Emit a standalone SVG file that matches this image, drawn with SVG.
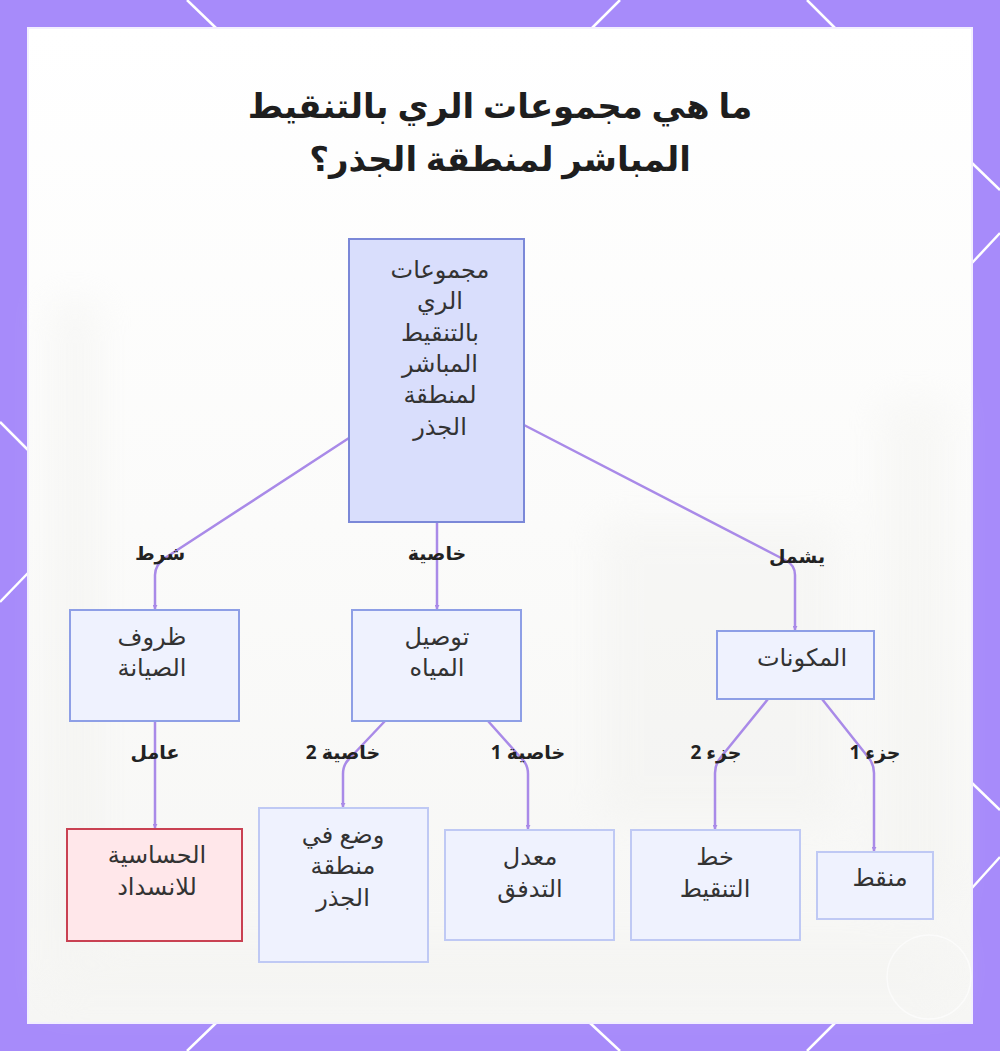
<svg xmlns="http://www.w3.org/2000/svg" width="1000" height="1051" viewBox="0 0 1000 1051">
<defs>
<style>
.frame-line{stroke:#ffffff;stroke-width:2.5;fill:none}
.node rect{stroke-width:2}
.n-main rect{fill:#d9defc;stroke:#7b88d8}
.n-mid rect{fill:#eff2fe;stroke:#8e9fe6}
.n-low rect{fill:#eff2fe;stroke:#bfc9f4}
.n-red rect{fill:#ffe7ea;stroke:#c94152}
.node text{font-family:"Noto Sans","DejaVu Sans",sans-serif;font-size:24px;fill:#333333;text-anchor:middle}
.edge{fill:none;stroke:#a98ae8;stroke-width:2.5}
.elabel{font-family:"Noto Sans","DejaVu Sans",sans-serif;font-size:19px;font-weight:bold;fill:#222222;text-anchor:middle}
.title{font-family:"Noto Sans","DejaVu Sans",sans-serif;font-size:34px;font-weight:bold;fill:#1e1e1e;text-anchor:middle}
</style>
<marker id="arrow" viewBox="0 0 6 6" refX="5" refY="3" markerWidth="5" markerHeight="5" orient="auto" markerUnits="userSpaceOnUse">
<path d="M0,0 L6,3 L0,6 z" fill="#a98ae8"/>
</marker>
<filter id="blur" x="-50%" y="-50%" width="200%" height="200%">
<feGaussianBlur stdDeviation="18"/>
</filter>
<linearGradient id="panelg" x1="0" y1="0" x2="0" y2="1">
<stop offset="0" stop-color="#ffffff"/>
<stop offset="0.5" stop-color="#fbfbfa"/>
<stop offset="1" stop-color="#f6f6f4"/>
</linearGradient>
</defs>

<!-- frame -->
<rect x="0" y="0" width="1000" height="1051" fill="#a78bfa"/>
<g id="frame-lines">
<line class="frame-line" x1="187" y1="0" x2="216" y2="28"/>
<line class="frame-line" x1="620" y1="0" x2="592" y2="28"/>
<line class="frame-line" x1="807" y1="0" x2="835" y2="28"/>
<line class="frame-line" x1="0" y1="422" x2="28" y2="450"/>
<line class="frame-line" x1="28" y1="573" x2="0" y2="602"/>
<line class="frame-line" x1="972" y1="163" x2="1000" y2="190"/>
<line class="frame-line" x1="972" y1="263" x2="1000" y2="233"/>
<line class="frame-line" x1="972" y1="783" x2="1000" y2="810"/>
<line class="frame-line" x1="972" y1="888" x2="1000" y2="857"/>
<line class="frame-line" x1="216" y1="1023" x2="187" y2="1051"/>
<line class="frame-line" x1="590" y1="1023" x2="620" y2="1051"/>
<line class="frame-line" x1="835" y1="1023" x2="807" y2="1051"/>
</g>

<!-- panel -->
<rect x="28" y="28" width="944" height="995" fill="url(#panelg)" stroke="#f3efff" stroke-width="2"/>
<g filter="url(#blur)" opacity="0.35">
<rect x="50" y="300" width="50" height="700" fill="#eeeeea"/>
<rect x="600" y="520" width="240" height="300" fill="#efefec"/>
<rect x="880" y="400" width="70" height="500" fill="#f0f0ec"/>
<rect x="50" y="940" width="900" height="60" fill="#f3f3f0"/>
</g>
<circle cx="929" cy="977" r="42" fill="none" stroke="#ffffff" stroke-width="1.5" opacity="0.6"/>

<!-- title -->
<g id="title">
<text class="title" x="500" y="118" direction="rtl">ما هي مجموعات الري بالتنقيط</text>
<text class="title" x="500" y="171" direction="rtl">المباشر لمنطقة الجذر؟</text>
</g>

<!-- connectors -->
<g id="connectors">
<path class="edge" d="M349,438 L165,558 Q155,565 155,575 L155,609" marker-end="url(#arrow)"/>
<path class="edge" d="M437,522 L437,609" marker-end="url(#arrow)"/>
<path class="edge" d="M524,425 L785,560 Q795,565 795,575 L795,630" marker-end="url(#arrow)"/>
<path class="edge" d="M155,721 L155,828" marker-end="url(#arrow)"/>
<path class="edge" d="M385,721 L349,759 Q343,765 343,774 L343,807" marker-end="url(#arrow)"/>
<path class="edge" d="M488,721 L522,759 Q528,765 528,774 L528,829" marker-end="url(#arrow)"/>
<path class="edge" d="M768,699 L721,757 Q715,764 715,773 L715,829" marker-end="url(#arrow)"/>
<path class="edge" d="M822,699 L868,757 Q874,764 874,773 L874,851" marker-end="url(#arrow)"/>
<text class="elabel" x="160" y="560" direction="rtl">شرط</text>
<text class="elabel" x="437" y="560" direction="rtl">خاصية</text>
<text class="elabel" x="797" y="563" direction="rtl">يشمل</text>
<text class="elabel" x="155" y="759" direction="rtl">عامل</text>
<text class="elabel" x="343" y="759" direction="rtl">خاصية 2</text>
<text class="elabel" x="528" y="759" direction="rtl">خاصية 1</text>
<text class="elabel" x="716" y="759" direction="rtl">جزء 2</text>
<text class="elabel" x="875" y="759" direction="rtl">جزء 1</text>
</g>

<!-- nodes -->
<g id="node-main" class="node n-main">
<rect x="349" y="239" width="175" height="283"/>
<text x="440" y="278">مجموعات</text>
<text x="440" y="309">الري</text>
<text x="440" y="341">بالتنقيط</text>
<text x="440" y="372">المباشر</text>
<text x="440" y="403">لمنطقة</text>
<text x="440" y="435">الجذر</text>
</g>
<g id="node-maintenance" class="node n-mid">
<rect x="70" y="610" width="169" height="111"/>
<text x="152" y="645">ظروف</text>
<text x="152" y="676">الصيانة</text>
</g>
<g id="node-water" class="node n-mid">
<rect x="352" y="610" width="169" height="111"/>
<text x="437" y="645">توصيل</text>
<text x="437" y="676">المياه</text>
</g>
<g id="node-components" class="node n-mid">
<rect x="717" y="631" width="157" height="68"/>
<text x="802" y="666">المكونات</text>
</g>
<g id="node-clog" class="node n-red">
<rect x="67" y="829" width="175" height="112"/>
<text x="157" y="863">الحساسية</text>
<text x="157" y="895">للانسداد</text>
</g>
<g id="node-root" class="node n-low">
<rect x="259" y="808" width="169" height="154"/>
<text x="343" y="843">وضع في</text>
<text x="343" y="874">منطقة</text>
<text x="343" y="906">الجذر</text>
</g>
<g id="node-flow" class="node n-low">
<rect x="445" y="830" width="169" height="110"/>
<text x="530" y="865">معدل</text>
<text x="530" y="897">التدفق</text>
</g>
<g id="node-line" class="node n-low">
<rect x="631" y="830" width="169" height="110"/>
<text x="715" y="865">خط</text>
<text x="715" y="897">التنقيط</text>
</g>
<g id="node-dripper" class="node n-low">
<rect x="817" y="852" width="116" height="67"/>
<text x="880" y="886">منقط</text>
</g>
</svg>
